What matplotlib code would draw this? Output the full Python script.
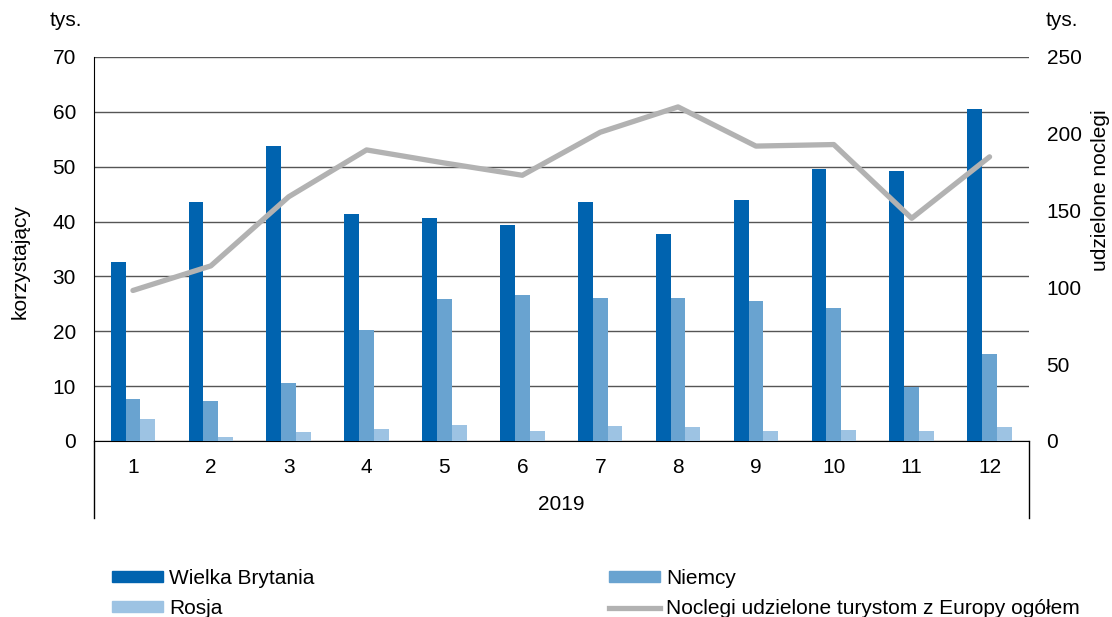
import matplotlib.pyplot as plt
import numpy as np
from matplotlib.patches import Patch
from matplotlib.lines import Line2D

plt.rcParams['font.family'] = ['Liberation Sans', 'DejaVu Sans']

months = ['1', '2', '3', '4', '5', '6', '7', '8', '9', '10', '11', '12']
wielka_brytania = [32.6, 43.5, 53.8, 41.4, 40.6, 39.3, 43.5, 37.7, 43.9, 49.6, 49.2, 60.6]
niemcy = [7.7, 7.3, 10.6, 20.2, 25.9, 26.7, 26.0, 26.0, 25.5, 24.2, 9.9, 15.9]
rosja = [4.0, 0.8, 1.6, 2.1, 2.9, 1.8, 2.7, 2.6, 1.8, 2.0, 1.8, 2.6]
noclegi = [98, 114, 159, 189.5, 181, 173, 201, 217.5, 192, 193, 145, 185]

c_wb = '#0063AF'
c_n = '#69A3D0'
c_r = '#9DC3E3'
c_line = '#B2B2B2'
fs = 15

fig = plt.figure(figsize=(11.12, 6.17), dpi=100)
W, H = 1112, 617
ax = fig.add_axes([94 / W, 1 - 441 / H, (1028.5 - 94) / W, (441 - 57) / H])

x = np.arange(len(months))
w = 0.19
ax.bar(x - w, wielka_brytania, w, color=c_wb, zorder=3)
ax.bar(x, niemcy, w, color=c_n, zorder=3)
ax.bar(x + w, rosja, w, color=c_r, zorder=3)

ax.set_xlim(-0.5, 11.5)
ax.set_ylim(0, 70)
ax.set_yticks(range(0, 71, 10))
ax.set_xticks(x)
ax.set_xticklabels(months)
ax.yaxis.grid(True, color='#555555', linewidth=1)
ax.set_axisbelow(True)
ax.tick_params(axis='both', length=0, labelsize=fs)
ax.tick_params(axis='x', pad=12)
ax.tick_params(axis='y', pad=13)
for s in ['top', 'right']:
    ax.spines[s].set_visible(False)
ax.spines['bottom'].set_color('black')
ax.spines['left'].set_color('black')

# ramka pod osia kategorii
drop = (518 - 441) / (441 - 57)
ax.plot([0, 0], [0, -drop], color='black', lw=1, transform=ax.transAxes, clip_on=False)
ax.plot([1, 1], [0, -drop], color='black', lw=1, transform=ax.transAxes, clip_on=False)
fig.text((94 + 1028) / 2 / W, 1 - 505 / H, '2019', ha='center', va='center', fontsize=fs)

ax2 = ax.twinx()
ax2.plot(x, noclegi, color=c_line, lw=3.8, zorder=4, solid_capstyle='round')
ax2.set_ylim(0, 250)
ax2.set_yticks(range(0, 251, 50))
ax2.tick_params(axis='y', length=0, labelsize=fs, pad=13)
for s in ['top', 'right', 'left', 'bottom']:
    ax2.spines[s].set_visible(False)

fig.text(66 / W, 1 - 20 / H, 'tys.', ha='center', va='center', fontsize=fs)
fig.text(1062 / W, 1 - 20 / H, 'tys.', ha='center', va='center', fontsize=fs)
fig.text(20 / W, 1 - 262 / H, 'korzystający', rotation=90, ha='center', va='center', fontsize=fs)
fig.text(1101 / W, 1 - 190 / H, 'udzielone noclegi', rotation=90, ha='center', va='center', fontsize=fs)

h_wb = Patch(color=c_wb)
h_r = Patch(color=c_r)
h_n = Patch(color=c_n)
h_l = Line2D([0], [0], color=c_line, lw=3.8)
kw = dict(loc='upper left', frameon=False, fontsize=fs, handlelength=2.45,
          handleheight=0.45, handletextpad=0.3, labelspacing=0.55, borderpad=0.4)
leg1 = fig.legend([h_wb, h_r], ['Wielka Brytania', 'Rosja'],
                  bbox_to_anchor=(93 / W, 1 - 550 / H), **kw)
leg2 = fig.legend([h_n, h_l], ['Niemcy', 'Noclegi udzielone turystom z Europy ogółem'],
                  bbox_to_anchor=(590 / W, 1 - 550 / H), **kw)

fig.savefig('out.png', dpi=100)
